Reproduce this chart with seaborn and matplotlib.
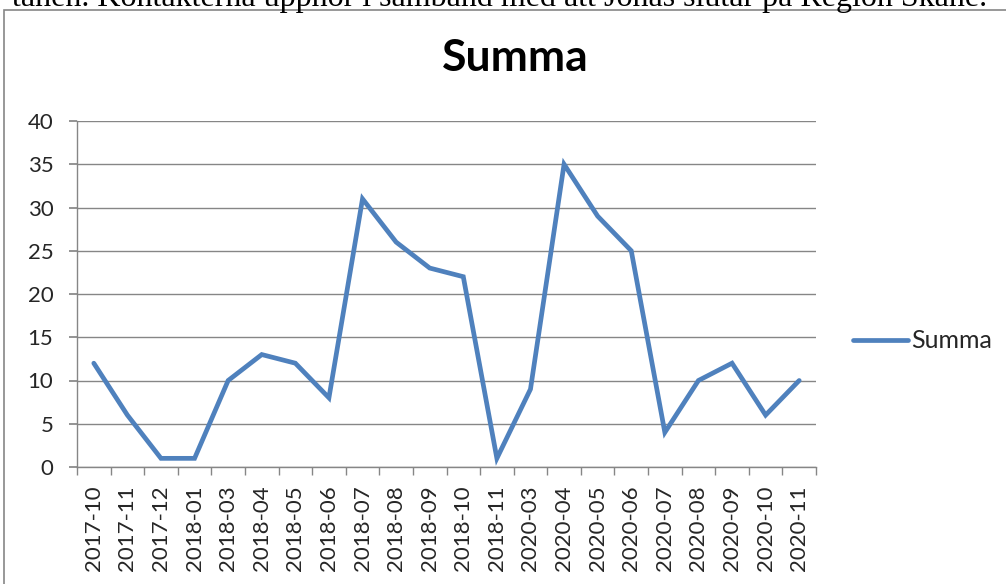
import matplotlib
matplotlib.use("Agg")
import matplotlib.pyplot as plt
import seaborn as sns
import pandas as pd
import numpy as np
from matplotlib.patches import Rectangle

months = ["2017-10", "2017-11", "2017-12", "2018-01", "2018-03", "2018-04",
          "2018-05", "2018-06", "2018-07", "2018-08", "2018-09", "2018-10",
          "2018-11", "2020-03", "2020-04", "2020-05", "2020-06", "2020-07",
          "2020-08", "2020-09", "2020-10", "2020-11"]
summa = [12, 6, 1, 1, 10, 13, 12, 8, 31, 26, 23, 22, 1, 9, 35, 29, 25, 4,
         10, 12, 6, 10]
y_ticks = [0, 5, 10, 15, 20, 25, 30, 35, 40]

df = pd.DataFrame({"pos": np.arange(len(months)), "Summa": summa})

sns.set_theme(style="white")
plt.rcParams["font.family"] = ["Lato", "DejaVu Sans"]

fig = plt.figure(figsize=(10.06, 5.84), dpi=100)

# cropped document text above the chart box
fig.text(0.497, 1 - 6 / 584, "tanen. Kontakterna upphör i samband med att Jonas slutar på Region Skåne.",
         ha="center", va="baseline", fontsize=23, family="Liberation Serif", color="black")

# chart border
fig.patches.append(Rectangle((4 / 1006, -0.1), 1.2, 1 - 10 / 584 + 0.1,
                             transform=fig.transFigure, fill=False,
                             edgecolor="#868686", linewidth=1.2))

ax = fig.add_axes([77 / 1006, 1 - 467 / 584, (816 - 77) / 1006, (467 - 121) / 584])
sns.lineplot(data=df, x="pos", y="Summa", ax=ax, color="#4F81BD", linewidth=3.4,
             label="Summa", solid_capstyle="round", solid_joinstyle="miter")

ax.set_xlim(-0.5, len(months) - 0.5)
ax.set_ylim(0, 40)
ax.set_yticks(y_ticks)
ax.set_yticklabels([str(v) for v in y_ticks], fontsize=16)
ax.set_xticks(df["pos"])
ax.set_xticklabels(months, rotation=90, fontsize=16)
ax.set_xticks(np.arange(len(months) + 1) - 0.5, minor=True)
ax.tick_params(axis="x", which="major", length=0, pad=13)
ax.tick_params(axis="x", which="minor", length=6, color="#868686", direction="out", bottom=True)
ax.tick_params(axis="y", length=6, color="#868686", direction="out", left=True, pad=11)
ax.yaxis.grid(True, color="#868686", linewidth=1)
ax.set_axisbelow(True)
for s in ["top", "right"]:
    ax.spines[s].set_visible(False)
for s in ["left", "bottom"]:
    ax.spines[s].set_color("#868686")
    ax.spines[s].set_linewidth(1)
ax.set_xlabel("")
ax.set_ylabel("")

fig.text(515 / 1006, 1 - 58 / 584, "Summa", ha="center", va="center",
         fontsize=32, fontweight="bold", color="black")

ax.legend(loc="center left", bbox_to_anchor=(1.02, 1 - (341 - 121) / 346), frameon=False,
          fontsize=18, handlelength=2.2, handletextpad=0.1)

fig.savefig("out.png", dpi=100)
